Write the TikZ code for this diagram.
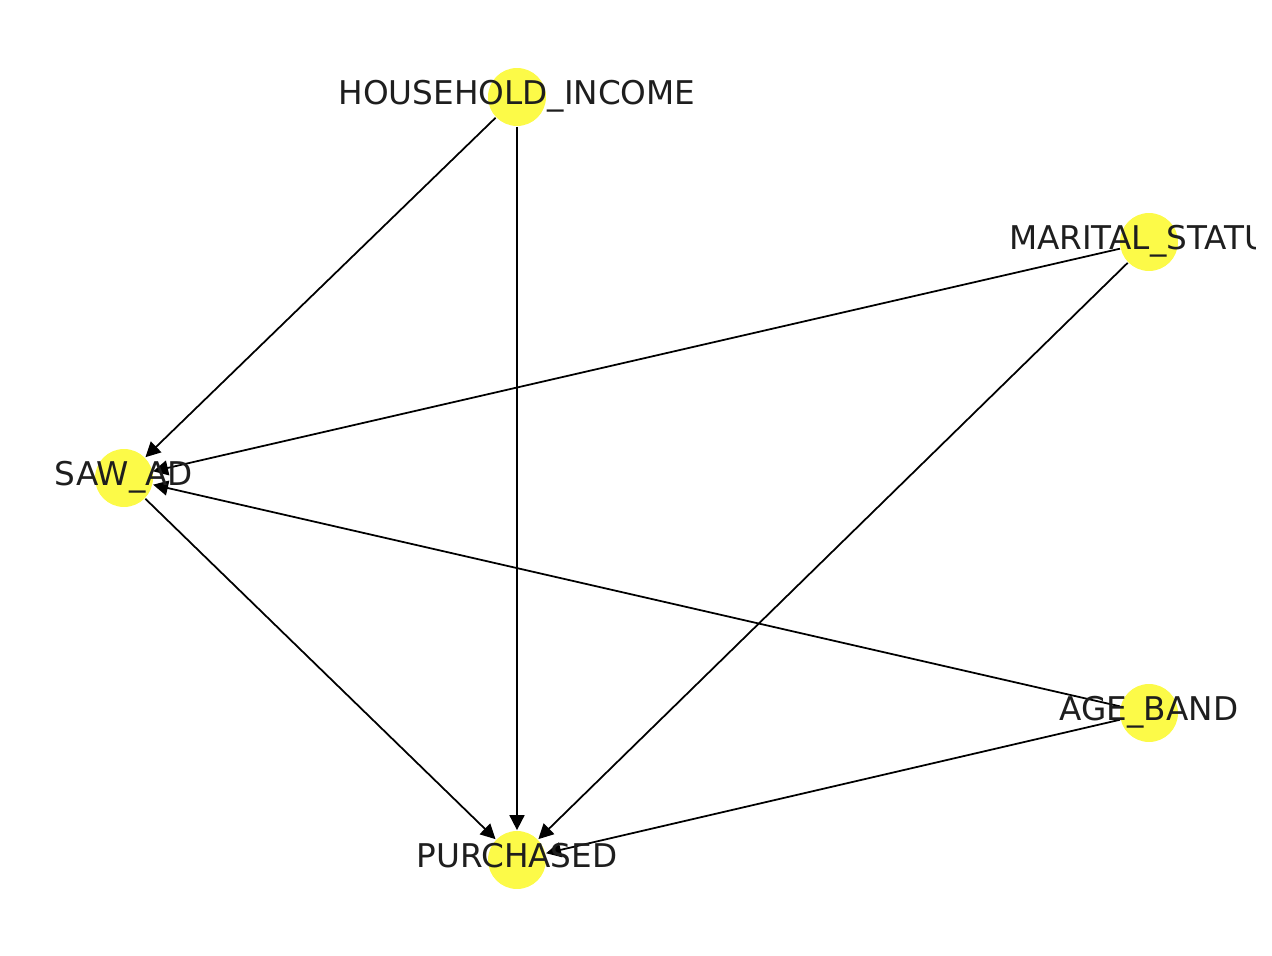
\documentclass[tikz,border=0pt]{standalone}
\usepackage{fontspec}
\setmainfont{DejaVu Sans}
\usetikzlibrary{arrows.meta}
\definecolor{mynodeyellow}{RGB}{252, 250, 72}
\definecolor{mytextgrey}{RGB}{30, 30, 30}

\begin{document}
\begin{tikzpicture}[x = 0.02cm, y = -0.02cm, > = {Triangle[length = 8.5pt, width = 8.5pt]}, line width = 1pt, state/.style={circle, fill = mynodeyellow, draw = none, minimum size = 33pt, inner sep = 0pt}, varname/.style={anchor = base, inner sep = 0pt, text = mytextgrey, font = \fontsize{18.6}{22}\selectfont}]
  \useasboundingbox (0, 0) rectangle (1272, 956);
  \clip (0, 0) rectangle (1255, 956);

  % nodes
  \node [state] (household-income) at (517, 97) {};
  \node [state] (marital-status) at (1149, 242) {};
  \node [state] (saw-ad) at (124, 478) {};
  \node [state] (age-band) at (1149, 713) {};
  \node [state] (purchased) at (517, 860) {};

  % edges
  \path[->] (household-income) edge (saw-ad);
  \path[->] (household-income) edge (purchased);
  \path[->] (marital-status) edge (saw-ad);
  \path[->] (marital-status) edge (purchased);
  \path[->] (age-band) edge (saw-ad);
  \path[->] (age-band) edge (purchased);
  \path[->] (saw-ad) edge (purchased);

  % labels
  \node [varname] (household-income-label) at ([yshift = -4.5pt] household-income) {HOUSEHOLD\_INCOME};
  \node [varname] (marital-status-label) at ([yshift = -4.5pt] marital-status) {MARITAL\_STATUS};
  \node [varname] (saw-ad-label) at ([yshift = -4.5pt] saw-ad) {SAW\_AD};
  \node [varname] (age-band-label) at ([yshift = -4.5pt] age-band) {AGE\_BAND};
  \node [varname] (purchased-label) at ([yshift = -4.5pt] purchased) {PURCHASED};

\end{tikzpicture}
\end{document}
